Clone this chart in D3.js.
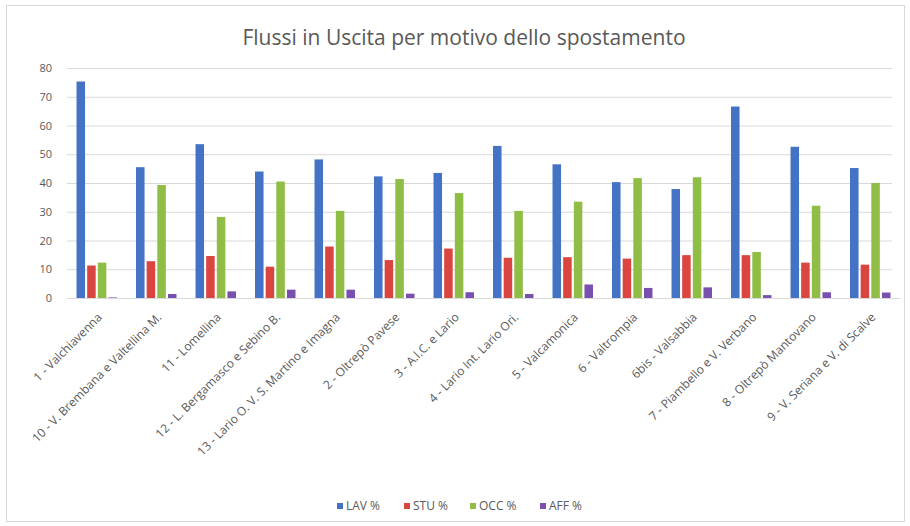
<!DOCTYPE html>
<html>
<head>
<meta charset="utf-8">
<script src="https://cdn.jsdelivr.net/npm/d3@7"></script>
<style>
  html, body { margin: 0; padding: 0; background: #fff; }
  svg { display: block; font-family: "Open Sans", "Liberation Sans", sans-serif; }
</style>
</head>
<body>
<svg id="chart" width="910" height="526"></svg>
<script>
// Areas (zone) and the share of outgoing trips by purpose, in percent
const categories = [
  "1 - Valchiavenna",
  "10 - V. Brembana e Valtellina M.",
  "11 - Lomellina",
  "12 - L. Bergamasco e Sebino B.",
  "13 - Lario O. V. S. Martino e Imagna",
  "2 - Oltrepò Pavese",
  "3 - A.l.C. e Lario",
  "4 - Lario Int. Lario Ori.",
  "5 - Valcamonica",
  "6 - Valtrompia",
  "6bis - Valsabbia",
  "7 - Piambello e V. Verbano",
  "8 - Oltrepò Mantovano",
  "9 - V. Seriana e V. di Scalve"
];
const seriesNames = ["LAV %", "STU %", "OCC %", "AFF %"];
const lav = [75.3, 45.5, 53.5, 44.0, 48.2, 42.3, 43.5, 52.9, 46.5, 40.3, 37.9, 66.6, 52.6, 45.2];
const stu = [11.3, 12.8, 14.6, 10.9, 17.9, 13.2, 17.2, 14.0, 14.2, 13.7, 14.9, 14.9, 12.3, 11.6];
const occ = [12.3, 39.3, 28.2, 40.5, 30.3, 41.4, 36.5, 30.3, 33.5, 41.7, 42.0, 16.0, 32.1, 40.0];
const aff = [0.2, 1.4, 2.3, 2.9, 2.9, 1.5, 2.0, 1.4, 4.7, 3.5, 3.7, 1.0, 2.0, 1.9];
const yTicks = [0, 10, 20, 30, 40, 50, 60, 70, 80];
const colors = ["#4472C4", "#DB4540", "#8FBD45", "#7950B0"];

const seriesValues = [lav, stu, occ, aff];
const title = "Flussi in Uscita per motivo dello spostamento";

const svg = d3.select("#chart");
const margin = { left: 67, top: 68 };
const plotRight = 900;
const y0 = 298;

// outer frame
svg.append("rect")
  .attr("x", 6.5).attr("y", 5.5).attr("width", 898).attr("height", 516)
  .attr("fill", "#fff").attr("stroke", "#d9d9d9").attr("stroke-width", 1);

// title
svg.append("text")
  .attr("x", 464).attr("y", 45)
  .attr("text-anchor", "middle")
  .attr("font-size", 21)
  .attr("fill", "#595959")
  .text(title);

const x = d3.scaleBand()
  .domain(categories)
  .range([margin.left, plotRight])
  .paddingInner(0.32)
  .paddingOuter(0.16);

const xs = d3.scaleBand()
  .domain(d3.range(seriesNames.length))
  .range([0, x.bandwidth()])
  .paddingInner(0.2);

const y = d3.scaleLinear().domain([0, 80]).range([y0, margin.top]);

// gridlines
const grid = svg.append("g")
  .attr("transform", `translate(${margin.left},0)`)
  .call(d3.axisLeft(y).tickValues(yTicks).tickSize(-(plotRight - margin.left - 8)).tickFormat(""));
grid.select(".domain").remove();
grid.selectAll(".tick line").attr("stroke", "#d9d9d9").attr("stroke-width", 1);

// y axis labels
const yAxis = svg.append("g")
  .attr("transform", `translate(${margin.left - 15},0)`)
  .call(d3.axisLeft(y).tickValues(yTicks).tickSize(0).tickPadding(0));
yAxis.select(".domain").remove();
yAxis.selectAll("text")
  .attr("font-size", 11).attr("fill", "#595959")
  .attr("font-family", "'Open Sans', sans-serif");

// bars
const groups = svg.append("g").selectAll("g")
  .data(categories)
  .join("g")
  .attr("transform", d => `translate(${x(d)},0)`);

groups.selectAll("rect")
  .data((d, i) => seriesValues.map((s, k) => ({ k, v: s[i] })))
  .join("rect")
  .attr("x", d => xs(d.k))
  .attr("width", xs.bandwidth())
  .attr("y", d => y(d.v))
  .attr("height", d => y0 - y(d.v))
  .attr("fill", d => colors[d.k]);

// x axis labels, rotated
const xAxis = svg.append("g")
  .attr("transform", `translate(0,${y0})`)
  .call(d3.axisBottom(x).tickSize(0).tickPadding(0));
xAxis.select(".domain").attr("stroke", "#d9d9d9");
xAxis.selectAll("text")
  .attr("font-size", 12).attr("fill", "#595959")
  .attr("font-family", "'Open Sans', sans-serif")
  .attr("text-anchor", "end")
  .attr("dy", 0)
  .attr("transform", "translate(6,20) rotate(-45)");

// legend
const legendX = [340, 407, 473, 543];
const legend = svg.append("g").selectAll("g")
  .data(seriesNames)
  .join("g")
  .attr("transform", (d, i) => `translate(${legendX[i]},506)`);
legend.append("rect")
  .attr("x", -3).attr("y", -3).attr("width", 6).attr("height", 6)
  .attr("fill", (d, i) => colors[i]);
legend.append("text")
  .attr("x", 6).attr("y", 4)
  .attr("font-size", 12).attr("fill", "#595959")
  .text(d => d);
</script>
</body>
</html>
